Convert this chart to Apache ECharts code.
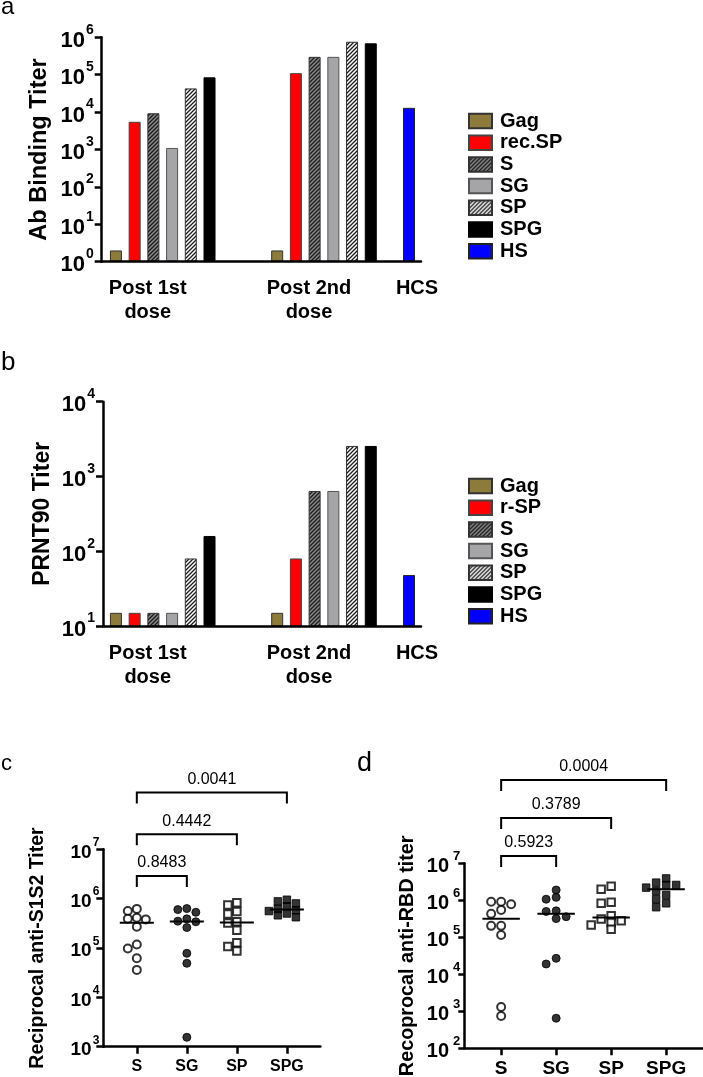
<!DOCTYPE html>
<html><head><meta charset="utf-8">
<script src="https://cdn.jsdelivr.net/npm/echarts@6/dist/echarts.min.js"></script>
<style>html,body{margin:0;padding:0;background:#fff}#c{width:703px;height:1077px}</style>
</head><body><div id="c"></div>
<script>
// ---------------- DATA ----------------
const abGroups = ['Post 1st\ndose', 'Post 2nd\ndose'];
const hcsGroup = ['HCS'];
const aSeriesNames = ['Gag', 'rec.SP', 'S', 'SG', 'SP', 'SPG'];
const bSeriesNames = ['Gag', 'r-SP', 'S', 'SG', 'SP', 'SPG'];
const hsName = 'HS';
const aPost1 = [2, 5500, 9300, 1100, 43000, 85000];
const aPost2 = [2, 110000, 300000, 300000, 760000, 690000];
const aHCS = [13000];
const bPost1 = [15, 15, 15, 15, 80, 160];
const bPost2 = [15, 80, 640, 640, 2560, 2560];
const bHCS = [48];
const aTickExps = [0, 1, 2, 3, 4, 5, 6];
const bTickExps = [1, 2, 3, 4];
const cTickExps = [3, 4, 5, 6, 7];
const dTickExps = [2, 3, 4, 5, 6, 7];

const scatterCats = ['S', 'SG', 'SP', 'SPG'];
const cS = [620000, 560000, 410000, 390000, 380000, 270000, 118000, 98000, 62000, 36000];
const cSG = [630000, 600000, 530000, 390000, 350000, 340000, 260000, 78000, 49000, 1550];
const cSP = [830000, 740000, 550000, 490000, 340000, 320000, 230000, 128000, 107000, 87000];
const cSPG = [950000, 880000, 800000, 700000, 620000, 580000, 560000, 500000, 460000, 420000];
const dS = [910000, 910000, 780000, 550000, 430000, 204000, 204000, 115000, 1300, 750];
const dSG = [1900000, 1200000, 1070000, 520000, 500000, 360000, 320000, 27000, 19000, 650];
const dSP = [2400000, 2000000, 890000, 830000, 380000, 310000, 280000, 250000, 215000, 165000];
const dSPG = [3900000, 3000000, 2600000, 2600000, 2200000, 1800000, 1400000, 1070000, 830000, 650000];
const cComparisons = [['S', 'SG', '0.8483'], ['S', 'SP', '0.4442'], ['S', 'SPG', '0.0041']];
const dComparisons = [['S', 'SG', '0.5923'], ['S', 'SP', '0.3789'], ['S', 'SPG', '0.0004']];
const cTitle = 'Reciprocal anti-S1S2 Titer';
const dTitle = 'Recoprocal anti-RBD titer';

// ---------------- STYLE / LAYOUT ----------------
const FONT = '"Liberation Sans", Arial, Helvetica, sans-serif';
function hatch(bg, line, size, lw) {
  const c = document.createElement('canvas'); c.width = c.height = size;
  const g = c.getContext('2d');
  g.fillStyle = bg; g.fillRect(0, 0, size, size);
  g.strokeStyle = line; g.lineWidth = lw; g.beginPath();
  g.moveTo(0, size); g.lineTo(size, 0);
  g.moveTo(-size / 2, size / 2); g.lineTo(size / 2, -size / 2);
  g.moveTo(size / 2, size * 1.5); g.lineTo(size * 1.5, size / 2);
  g.stroke();
  return c;
}
const hatchDark = hatch('#8a8a8a', '#1a1a1a', 4, 1.3);
const hatchLight = hatch('#ffffff', '#1a1a1a', 4, 1.3);
const barStyles = [
  { color: '#8c7b3b', borderColor: '#333', borderWidth: 1 },
  { color: '#ff0000', borderColor: '#444', borderWidth: 1 },
  { color: { image: hatchDark, repeat: 'repeat' }, borderColor: '#333', borderWidth: 1 },
  { color: '#a5a5a8', borderColor: '#555', borderWidth: 1 },
  { color: { image: hatchLight, repeat: 'repeat' }, borderColor: '#333', borderWidth: 1 },
  { color: '#000000', borderColor: '#000', borderWidth: 1 }
];
const hsStyle = { color: '#0000ff', borderColor: '#222', borderWidth: 1 };

function grid(left, top, width, height) {
  return { left, top, width, height, containLabel: false, outerBoundsMode: 'none' };
}
const grids = [
  grid(101.7, 37.3, 319.3, 224.4),  // 0 a frame
  grid(82.1, 37.3, 322.5, 224.4),   // 1 a bars
  grid(398, 37.3, 22, 224.4),       // 2 a HCS
  grid(103, 401.7, 318, 224.3),     // 3 b frame
  grid(82.1, 401.7, 322.5, 224.3),  // 4 b bars
  grid(398, 401.7, 22, 224.3),      // 5 b HCS
  grid(103.3, 849.3, 217.1, 197.4), // 6 c
  grid(103.3, 792.6, 217.1, 83.4),  // 7 c brackets
  grid(464.3, 863.3, 238.7, 185),   // 8 d
  grid(464.3, 780, 238.7, 76)       // 9 d brackets
];
const AXC = '#000';
const lineSt = { color: AXC, width: 2.5 };

function frameX(gi) {
  return { gridIndex: gi, type: 'value', min: 0, max: 1, z: 10,
    axisLine: { show: true, onZero: false, lineStyle: lineSt },
    axisTick: { show: false }, axisLabel: { show: false }, splitLine: { show: false } };
}
function logY(gi, exps, name, o) {
  return { gridIndex: gi, type: 'log', logBase: 10, min: Math.pow(10, exps[0]), max: Math.pow(10, exps[exps.length - 1]),
    interval: 1, z: 10,
    axisLine: { show: true, onZero: false, lineStyle: lineSt },
    axisTick: { show: true, length: o.tick, lineStyle: { color: AXC, width: 2.5 } },
    minorTick: { show: false }, splitLine: { show: false }, minorSplitLine: { show: false },
    axisLabel: { margin: o.margin, formatter: v => '{b|10}{s|' + Math.round(Math.log10(v)) + '}',
      rich: {
        b: { fontSize: o.b, fontWeight: 'bold', fontFamily: FONT, color: '#000', lineHeight: Math.round(o.b * 1.3), verticalAlign: 'bottom' },
        s: { fontSize: o.s, fontWeight: 'bold', fontFamily: FONT, color: '#000', lineHeight: o.s, verticalAlign: 'top', padding: [0, 0, 0, o.gap] }
      } },
    name: name, nameLocation: 'middle', nameGap: o.nameGap, nameRotate: 90, nameMoveOverlap: false,
    nameTextStyle: { fontSize: o.nameSize, fontWeight: 'bold', fontFamily: FONT, color: '#000' } };
}
function hiddenLogY(gi, exps) {
  return { gridIndex: gi, type: 'log', logBase: 10, min: Math.pow(10, exps[0]), max: Math.pow(10, exps[exps.length - 1]), show: false };
}
function catX(gi, data, pad) {
  return { gridIndex: gi, type: 'category', data: data,
    axisLine: { show: false }, axisTick: { show: false }, splitLine: { show: false },
    axisLabel: { interval: 0, fontSize: 20, fontWeight: 'bold', fontFamily: FONT, color: '#000', lineHeight: 24, margin: 15, padding: pad } };
}
function scatX(gi, fs, margin) {
  return { gridIndex: gi, type: 'value', min: -0.67, max: 3.67, z: 10,
    axisLine: { show: true, onZero: false, lineStyle: lineSt },
    axisTick: { show: true, customValues: [0, 1, 2, 3], length: 7, lineStyle: { color: AXC, width: 2.5 } },
    axisLabel: { customValues: [0, 1, 2, 3], formatter: v => scatterCats[Math.round(v)] || '',
      fontSize: fs, fontWeight: 'bold', fontFamily: FONT, color: '#000', margin: margin },
    splitLine: { show: false } };
}
function hiddenVal(gi, min, max) {
  return { gridIndex: gi, type: 'value', min: min, max: max, show: false };
}

const xAxes = [
  frameX(0), catX(1, abGroups, [0, 30, 0, 0]), catX(2, hcsGroup, [0, 0, 0, 16]),
  frameX(3), catX(4, abGroups, [0, 30, 0, 0]), catX(5, hcsGroup, [0, 0, 0, 16]),
  scatX(6, 16, 12), hiddenVal(7, -0.67, 3.67),
  scatX(8, 19, 11), hiddenVal(9, -0.67, 3.67)
];
const yAxes = [
  logY(0, aTickExps, 'Ab Binding Titer', { tick: 7, margin: 8, b: 22, s: 14, gap: 1, nameGap: 50, nameSize: 23.5 }),
  hiddenLogY(1, aTickExps), hiddenLogY(2, aTickExps),
  logY(3, bTickExps, 'PRNT90 Titer', { tick: 7, margin: 8, b: 22, s: 14, gap: 1, nameGap: 49, nameSize: 23 }),
  hiddenLogY(4, bTickExps), hiddenLogY(5, bTickExps),
  logY(6, cTickExps, cTitle, { tick: 7, margin: 4, b: 19, s: 12, gap: 1, nameGap: 56, nameSize: 19.5 }),
  hiddenVal(7, 0, 2),
  logY(8, dTickExps, dTitle, { tick: 6, margin: 4, b: 20, s: 13, gap: 4, nameGap: 47, nameSize: 19.8 }),
  hiddenVal(9, 0, 2)
];

// ---------------- SERIES ----------------
const series = [];
function addBars(names, post1, post2, hcs, bi, hi) {
  names.forEach((n, j) => {
    series.push({ type: 'bar', name: n, xAxisIndex: bi, yAxisIndex: bi, data: [post1[j], post2[j]],
      barWidth: 12, barGap: '56%', itemStyle: barStyles[j], z: 3 });
  });
  series.push({ type: 'bar', name: hsName, xAxisIndex: hi, yAxisIndex: hi, data: hcs, barWidth: 12, itemStyle: hsStyle, z: 3 });
}
addBars(aSeriesNames, aPost1, aPost2, aHCS, 1, 2);
addBars(bSeriesNames, bPost1, bPost2, bHCS, 4, 5);

function median(arr) {
  const s = arr.slice().sort((a, b) => a - b); const m = s.length / 2;
  return s.length % 2 ? s[Math.floor(m)] : (s[m - 1] + s[m]) / 2;
}
// beeswarm: spread overlapping points into columns (pixel-space collision)
function swarm(vals, pxPerDecade, unitPx, diam, step) {
  const order = vals.map((v, i) => i).sort((a, b) => vals[b] - vals[a]);
  const placed = []; const offs = new Array(vals.length);
  order.forEach(i => {
    const y = Math.log10(vals[i]) * pxPerDecade;
    for (let k = 0; k < 30; k++) {
      const m = k === 0 ? 0 : (k % 2 ? -Math.ceil(k / 2) : k / 2);
      if (placed.every(p => p.m !== m || Math.abs(p.y - y) >= diam)) { placed.push({ m, y }); offs[i] = m * step / unitPx; break; }
    }
  });
  return offs;
}
const markers = [
  { symbol: 'circle', itemStyle: { color: '#fff', borderColor: '#000', borderWidth: 2 } },
  { symbol: 'circle', itemStyle: { color: '#000', borderColor: '#000', borderWidth: 1 } },
  { symbol: 'rect', itemStyle: { color: '#fff', borderColor: '#000', borderWidth: 2 } },
  { symbol: 'rect', itemStyle: { color: '#000', borderColor: '#000', borderWidth: 1 } }
];
function addScatter(groups, gi, oi, pxPerDecade, unitPx, size, step, coll, comps) {
  groups.forEach((vals, i) => {
    const offs = swarm(vals, pxPerDecade, unitPx, coll, step);
    series.push({ type: 'scatter', name: scatterCats[i], xAxisIndex: gi, yAxisIndex: gi,
      symbol: markers[i].symbol, symbolSize: markers[i].symbol === 'rect' ? size - 0.5 : size,
      itemStyle: markers[i].itemStyle, data: vals.map((v, k) => [i + offs[k], v]), z: 4 });
  });
  series.push({ type: 'custom', xAxisIndex: gi, yAxisIndex: gi, z: 6,
    data: groups.map((vals, i) => [i, median(vals)]),
    renderItem: (params, api) => {
      const a = api.coord([api.value(0) - 0.34, api.value(1)]);
      const b = api.coord([api.value(0) + 0.34, api.value(1)]);
      return { type: 'line', shape: { x1: a[0], y1: a[1], x2: b[0], y2: b[1] }, style: { stroke: '#000', lineWidth: 2 } };
    } });
  series.push({ type: 'custom', xAxisIndex: oi, yAxisIndex: oi, z: 6, clip: false,
    encode: { x: [0, 1], y: 2 },
    data: comps.map((c, lvl) => [scatterCats.indexOf(c[0]), scatterCats.indexOf(c[1]), lvl]),
    renderItem: (params, api) => {
      const p1 = api.coord([api.value(0), api.value(2)]);
      const p2 = api.coord([api.value(1), api.value(2)]);
      const drop = 11;
      return { type: 'group', children: [
        { type: 'polyline', shape: { points: [[p1[0], p1[1] + drop], [p1[0], p1[1]], [p2[0], p2[1]], [p2[0], p2[1] + drop]] },
          style: { stroke: '#000', lineWidth: 2, fill: null } },
        { type: 'text', x: (p1[0] + p2[0]) / 2, y: p1[1] - 5,
          style: { text: comps[params.dataIndex][2], align: 'center', verticalAlign: 'bottom', fontSize: 16, fontFamily: FONT, fill: '#000' } }
      ] };
    } });
}
addScatter([cS, cSG, cSP, cSPG], 6, 7, 197.4 / 4, 50, 8, 9, 6, cComparisons);
addScatter([dS, dSG, dSP, dSPG], 8, 9, 185 / 5, 55, 8, 10, 6, dComparisons);

function legend(names, top) {
  return { data: names.concat([hsName]).map(n => ({ name: n, icon: 'rect' })), orient: 'vertical', left: 468, top: top,
    itemWidth: 23, itemHeight: 14.5, itemGap: 1.7, selectedMode: false, padding: 0,
    textStyle: { fontSize: 20, fontWeight: 'bold', fontFamily: FONT, color: '#000', padding: [0, 0, 0, 3] } };
}
function letter(t, left, top, size) {
  return { text: t, left: left, top: top, padding: 0, textStyle: { fontSize: size, fontWeight: 'normal', fontFamily: FONT, color: '#000', lineHeight: size } };
}

const chart = echarts.init(document.getElementById('c'), null, { renderer: 'canvas' });
chart.setOption({
  animation: false,
  backgroundColor: '#fff',
  title: [letter('a', 1, -5, 24), letter('b', 1, 350, 26), letter('c', 1, 753, 22), letter('d', 357, 750, 27)],
  legend: [legend(aSeriesNames, 111), legend(bSeriesNames, 476)],
  grid: grids, xAxis: xAxes, yAxis: yAxes, series: series
});
</script></body></html>
